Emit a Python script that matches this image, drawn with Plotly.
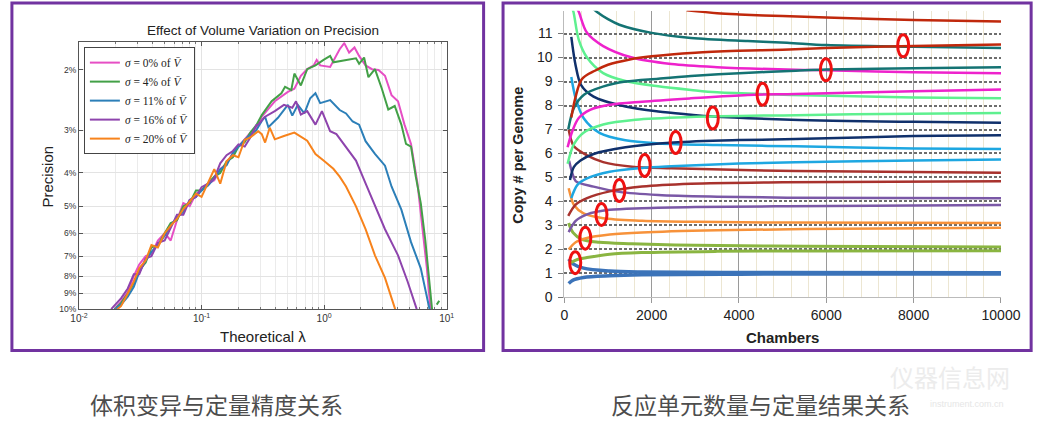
import plotly.graph_objects as go

# ---------------- Left chart: Effect of Volume Variation on Precision ----------------
series_labels = ["<i>σ</i> = 0% of <i>V\u0304</i>", "<i>σ</i> = 4% of <i>V\u0304</i>",
                 "<i>σ</i> = 11% of <i>V\u0304</i>", "<i>σ</i> = 16% of <i>V\u0304</i>",
                 "<i>σ</i> = 20% of <i>V\u0304</i>"]
series_colors = ["#e64fc4", "#43a047", "#2c7fb8", "#8e44ad", "#f7831c"]

rise_lam = [0.0195, 0.022, 0.025, 0.028, 0.031, 0.035, 0.039, 0.044, 0.05, 0.056, 0.063, 0.071,
            0.08, 0.09, 0.1, 0.113, 0.127, 0.142, 0.16, 0.18, 0.2, 0.225, 0.25, 0.28]

lam_s0 = rise_lam + [0.31, 0.396, 0.506, 0.572, 0.646, 0.728, 0.822, 0.87, 0.929, 1.12, 1.34, 1.46,
                     1.6, 1.77, 1.93, 2.18, 2.46, 2.78, 3.14, 3.55, 4.01, 4.53, 5.12, 5.78, 6.3, 6.9, 7.38]
prec_s0 = [10.0, 9.5, 8.9, 8.0, 7.4, 7.0, 6.9, 6.3, 6.0, 6.3, 5.5, 4.9, 5.0, 4.6, 4.5, 4.3, 4.2, 3.9,
           3.75, 3.5, 3.35, 3.2, 3.05, 2.95,
           2.74, 2.47, 2.32, 2.27, 2.08, 1.99, 1.94, 1.87, 1.94, 1.96, 1.74, 1.67,
           1.78, 1.72, 1.82, 1.94, 1.99, 2.0, 2.08, 2.37, 2.47, 2.89, 3.29, 4.29, 5.59, 7.6, 10.0]

lam_s1 = rise_lam + [0.31, 0.373, 0.448, 0.48, 0.54, 0.572, 0.646, 0.728, 0.85, 0.99, 1.12, 1.19,
                     1.51, 1.82, 1.93, 2.12, 2.3, 2.6, 2.96, 3.34, 3.77, 4.27, 4.66, 5.12, 5.6, 6.15,
                     6.7, 7.2, 7.6, None, 8.3, 8.7]
prec_s1 = [10.0, 9.6, 9.0, 8.4, 7.7, 7.3, 6.6, 6.5, 6.0, 5.6, 5.5, 5.0, 4.9, 4.5, 4.5, 4.3, 4.1, 4.0,
           3.7, 3.6, 3.35, 3.25, 3.05, 2.9,
           2.71, 2.47, 2.34, 2.24, 2.29, 2.05, 2.22, 1.99, 1.94, 1.87, 1.82, 1.9,
           1.87, 1.85, 1.92, 1.84, 2.1, 1.99, 2.27, 2.61, 2.55, 2.89, 3.29, 3.35, 4.1, 4.9,
           6.3, 8.1, 10.0, None, 9.7, 9.45]

lam_s2 = rise_lam + [0.31, 0.33, 0.351, 0.42, 0.506, 0.55, 0.61, 0.69, 0.77, 0.85, 0.929, 1.12, 1.34,
                     1.51, 1.71, 1.93, 2.18, 2.6, 3.14, 3.55, 4.27, 5.12, 6.15, 7.25]
prec_s2 = [10.0, 9.7, 9.2, 8.6, 7.8, 7.2, 6.8, 6.5, 6.1, 5.7, 5.4, 5.2, 4.8, 4.7, 4.5, 4.35, 4.15, 3.9,
           3.8, 3.5, 3.35, 3.2, 3.1, 3.0,
           2.82, 2.74, 2.94, 2.76, 2.53, 2.72, 2.53, 2.68, 2.42, 2.34, 2.5, 2.45, 2.62,
           2.68, 2.83, 2.89, 3.23, 3.52, 3.81, 4.38, 5.12, 6.37, 7.6, 10.0]

lam_s3 = [0.0183] + rise_lam[1:] + [0.29, 0.33, 0.396, 0.47, 0.55, 0.59, 0.646, 0.728, 0.85, 0.96,
                                    1.12, 1.26, 1.51, 1.82, 2.18, 2.6, 3.14, 4.01, 4.8, 5.7]
prec_s3 = [10.0, 9.3, 8.7, 7.9, 7.9, 7.1, 7.0, 6.4, 6.3, 5.8, 5.3, 5.3, 4.8, 4.7, 4.4, 4.3, 4.15, 3.75,
           3.55, 3.45, 3.3, 3.35, 3.15, 2.9,
           2.89, 2.74, 2.64, 2.53, 2.58, 2.47, 2.7, 2.64, 2.89, 2.64,
           3.02, 3.08, 3.35, 3.68, 4.29, 5.01, 5.84, 6.96, 8.3, 10.0]

lam_s4 = [0.0205] + rise_lam[1:] + [0.29, 0.31, 0.33, 0.36, 0.396, 0.47, 0.572, 0.728, 0.85, 0.99,
                                    1.19, 1.34, 1.51, 1.82, 2.18, 2.6, 3.14, 3.8]
prec_s4 = [10.0, 9.8, 9.0, 8.3, 7.6, 7.2, 6.5, 6.6, 6.0, 5.7, 5.45, 5.1, 4.85, 4.6, 4.7, 4.25, 3.9, 4.3,
           3.7, 3.55, 3.6, 3.2, 3.15, 3.05,
           3.02, 3.08, 3.26, 2.95, 3.19, 3.12, 3.05, 3.22, 3.52, 3.68,
           3.89, 4.1, 4.38, 5.01, 5.84, 6.96, 8.1, 10.0]

left_lams = [lam_s0, lam_s1, lam_s2, lam_s3, lam_s4]
left_precs = [prec_s0, prec_s1, prec_s2, prec_s3, prec_s4]

x_tick_vals = [0.01, 0.1, 1, 10]
x_tick_text = ["10<sup>-2</sup>", "10<sup>-1</sup>", "10<sup>0</sup>", "10<sup>1</sup>"]
x_minor_vals = [k * d for d in (0.01, 0.1, 1) for k in range(2, 10)]
y_tick_vals = [2, 3, 4, 5, 6, 7, 8, 9, 10]
y_tick_text = [f"{v}%" for v in y_tick_vals]

# ---------------- Right chart: copy number vs chambers ----------------
n_blue_hi = [100, 200, 440, 1040, 1780, 4000, 10000]
c_blue_hi = [1.6, 1.4, 1.22, 1.1, 1.06, 1.04, 1.03]
n_blue_lo = [100, 200, 440, 1040, 1780, 4000, 10000]
c_blue_lo = [0.58, 0.72, 0.83, 0.9, 0.94, 0.97, 0.98]

n_olive_hi = [100, 200, 400, 800, 1550, 3000, 5500, 10000]
c_olive_hi = [3.1, 2.7, 2.42, 2.3, 2.24, 2.17, 2.13, 2.1]
n_olive_lo = [150, 300, 520, 1040, 1780, 3500, 5500, 10000]
c_olive_lo = [1.45, 1.58, 1.66, 1.8, 1.87, 1.92, 1.94, 1.95]

n_orange_hi = [100, 150, 220, 440, 890, 1780, 3000, 5000, 10000]
c_orange_hi = [4.55, 4.2, 3.85, 3.5, 3.3, 3.2, 3.15, 3.12, 3.1]
n_orange_lo = [100, 260, 520, 1040, 1780, 3500, 5500, 10000]
c_orange_lo = [2.0, 2.3, 2.48, 2.62, 2.71, 2.8, 2.85, 2.9]

n_purple_hi = [110, 180, 260, 670, 1260, 2150, 3500, 5100, 10000]
c_purple_hi = [5.7, 5.2, 4.85, 4.62, 4.4, 4.27, 4.2, 4.16, 4.13]
n_purple_lo = [100, 260, 520, 1040, 1780, 3000, 5100, 10000]
c_purple_lo = [2.72, 3.19, 3.46, 3.65, 3.72, 3.77, 3.8, 3.85]

n_brown_hi = [100, 150, 220, 520, 890, 1550, 2450, 5300, 10000]
c_brown_hi = [7.0, 6.6, 6.3, 5.92, 5.64, 5.45, 5.38, 5.27, 5.2]
n_brown_lo = [90, 260, 520, 1040, 1780, 2900, 5000, 10000]
c_brown_lo = [3.4, 3.87, 4.14, 4.42, 4.62, 4.74, 4.8, 4.84]

n_sky_hi = [160, 260, 440, 815, 1400, 2150, 3500, 5300, 8000, 10000]
c_sky_hi = [9.19, 8.3, 7.48, 6.85, 6.55, 6.42, 6.35, 6.3, 6.21, 6.19]
n_sky_lo = [160, 300, 520, 1040, 1780, 2450, 4000, 5300, 8000, 10000]
c_sky_lo = [4.14, 4.69, 4.96, 5.24, 5.4, 5.47, 5.58, 5.64, 5.71, 5.75]

n_navy_hi = [160, 260, 385, 670, 1400, 2150, 2900, 3350, 5200, 8000, 10000]
c_navy_hi = [10.86, 9.66, 8.85, 8.37, 7.96, 7.75, 7.62, 7.55, 7.41, 7.32, 7.28]
n_navy_lo = [130, 220, 370, 670, 1400, 2500, 4000, 5300, 8000, 10000]
c_navy_lo = [4.9, 5.44, 5.71, 5.98, 6.26, 6.46, 6.56, 6.6, 6.73, 6.76]

n_mint_hi = [180, 210, 330, 520, 890, 1400, 2150, 2900, 3500, 5200, 8000, 10000]
c_mint_hi = [12.05, 11.9, 10.75, 10.0, 9.35, 9.02, 8.8, 8.65, 8.55, 8.44, 8.34, 8.3]
n_mint_lo = [75, 220, 440, 890, 1630, 2900, 5300, 8000, 10000]
c_mint_lo = [5.57, 6.39, 6.87, 7.21, 7.41, 7.52, 7.6, 7.66, 7.69]

n_mag_hi = [290, 333, 520, 890, 1550, 2450, 3500, 5300, 6000, 8000, 10000]
c_mag_hi = [12.05, 11.9, 11.03, 10.48, 10.0, 9.73, 9.6, 9.49, 9.47, 9.39, 9.35]
n_mag_lo = [75, 185, 330, 590, 1040, 1780, 2900, 4200, 5300, 8000, 10000]
c_mag_lo = [6.26, 6.94, 7.48, 7.82, 8.03, 8.16, 8.3, 8.44, 8.48, 8.6, 8.67]

n_teal_hi = [650, 741, 1000, 1259, 2000, 2900, 4200, 5100, 6000, 8000, 10000]
c_teal_hi = [12.05, 11.91, 11.6, 11.37, 11.03, 10.82, 10.69, 10.62, 10.52, 10.45, 10.4]
n_teal_lo = [90, 220, 450, 900, 1400, 2150, 2900, 4000, 5300, 6000, 8000, 10000]
c_teal_lo = [7.0, 7.9, 8.45, 8.8, 9.0, 9.12, 9.23, 9.35, 9.45, 9.5, 9.55, 9.6]

n_red_hi = [2800, 3500, 4000, 5000, 6000, 8000, 10000]
c_red_hi = [11.97, 11.85, 11.8, 11.73, 11.67, 11.57, 11.5]
n_red_lo = [160, 250, 400, 700, 1000, 1500, 2000, 3000, 4000, 5000, 6000, 8000, 10000]
c_red_lo = [7.5, 8.3, 9.1, 9.45, 9.7, 9.92, 10.05, 10.2, 10.28, 10.33, 10.4, 10.48, 10.55]

ellipse_n = [250, 480, 850, 1260, 1840, 2550, 3400, 4540, 5990, 7760]
ellipse_c = [1.45, 2.47, 3.46, 4.46, 5.5, 6.46, 7.48, 8.47, 9.49, 10.49]

right_curves = [
    (n_blue_hi, c_blue_hi, "#3b73b9", 3.5), (n_blue_lo, c_blue_lo, "#3b73b9", 3.5),
    (n_olive_hi, c_olive_hi, "#8ab541", 3), (n_olive_lo, c_olive_lo, "#8ab541", 3),
    (n_orange_hi, c_orange_hi, "#f7923a", 2.5), (n_orange_lo, c_orange_lo, "#f7923a", 2.5),
    (n_purple_hi, c_purple_hi, "#7a58a6", 2.5), (n_purple_lo, c_purple_lo, "#7a58a6", 2.5),
    (n_brown_hi, c_brown_hi, "#a8322d", 2.5), (n_brown_lo, c_brown_lo, "#a8322d", 2.5),
    (n_sky_hi, c_sky_hi, "#1ea7e1", 2.5), (n_sky_lo, c_sky_lo, "#1ea7e1", 2.5),
    (n_navy_hi, c_navy_hi, "#10306b", 2.5), (n_navy_lo, c_navy_lo, "#10306b", 2.5),
    (n_mint_hi, c_mint_hi, "#5ef08f", 2.5), (n_mint_lo, c_mint_lo, "#5ef08f", 2.5),
    (n_mag_hi, c_mag_hi, "#ee22cc", 2.5), (n_mag_lo, c_mag_lo, "#ee22cc", 2.5),
    (n_teal_hi, c_teal_hi, "#147373", 2.5), (n_teal_lo, c_teal_lo, "#147373", 2.5),
    (n_red_hi, c_red_hi, "#c0280c", 2.5), (n_red_lo, c_red_lo, "#c0280c", 2.5),
]

fig = go.Figure()

for lam, prec, name, col in zip(left_lams, left_precs, series_labels, series_colors):
    fig.add_trace(go.Scatter(x=lam, y=prec, mode="lines", name=name, xaxis="x", yaxis="y",
                             line=dict(color=col, width=2), connectgaps=False))

for n, c, col, w in right_curves:
    fig.add_trace(go.Scatter(x=n, y=c, mode="lines", xaxis="x2", yaxis="y2", showlegend=False,
                             line=dict(color=col, width=w, shape="spline", smoothing=0.9)))

shapes = []
for cx, cy in zip(ellipse_n, ellipse_c):
    shapes.append(dict(type="circle", xref="x2", yref="y2", xsizemode="pixel", ysizemode="pixel",
                       xanchor=cx, yanchor=cy, x0=-5.5, x1=5.5, y0=-11, y1=11,
                       line=dict(color="#ee1111", width=3)))
# purple panel borders
shapes.append(dict(type="rect", xref="paper", yref="paper", x0=3/1056, x1=488/1056,
                   y0=1-357/433, y1=1-3/433, line=dict(color="#7133a0", width=3), layer="above"))
shapes.append(dict(type="rect", xref="paper", yref="paper", x0=508/1056, x1=1051/1056,
                   y0=1-357/433, y1=1-3/433, line=dict(color="#7133a0", width=3), layer="above"))


def label(text, px, py, size, color="#222", family="Liberation Sans, Arial", angle=0):
    return dict(text=text, x=px/1056, y=1-py/433, xref="paper", yref="paper", showarrow=False,
                xanchor="center", yanchor="middle", textangle=angle,
                font=dict(family=family, size=size, color=color))


annotations = [
    label("Effect of Volume Variation on Precision", 261, 31, 13.5),
    label("Theoretical λ", 261, 343, 15),
    label("Precision", 40, 180, 15, angle=-90),
    label("<b>Copy # per Genome</b>", 523, 158, 14.5, angle=-90),
    label("<b>Chambers</b>", 795, 344, 15),
    label("体积变异与定量精度关系", 213, 412, 23, color="#4d4d4d", family="Noto Sans CJK SC"),
    label("反应单元数量与定量结果关系", 773, 412, 23, color="#4d4d4d", family="Noto Sans CJK SC"),
    label("仪器信息网", 968, 384, 24, color="#ececec", family="Noto Sans CJK SC"),
    label("instrument.com.cn", 985, 412, 9, color="#e6e6e6"),
]

fig.update_layout(
    width=1056, height=433, margin=dict(l=0, r=0, t=0, b=0),
    paper_bgcolor="white", plot_bgcolor="white",
    font=dict(family="Liberation Sans, Arial", color="#333"),
    xaxis=dict(domain=[72/1056, 450/1056], anchor="y", type="log", range=[-2, 1],
               tickmode="array", tickvals=x_tick_vals, ticktext=x_tick_text,
               tickfont=dict(size=10, color="#333"), ticks="inside", ticklen=4, tickcolor="#555",
               showline=True, linecolor="#555", linewidth=1, mirror="ticks",
               showgrid=True, gridcolor="#e3e3e3", gridwidth=1, zeroline=False,
               minor=dict(tickmode="array", tickvals=x_minor_vals, showgrid=True, gridcolor="#ebebeb",
                          ticks="inside", ticklen=2, tickcolor="#777")),
    yaxis=dict(domain=[1-315/433, 1-43/433], anchor="x", type="log", range=[1, 0.2201],
               tickmode="array", tickvals=y_tick_vals, ticktext=y_tick_text,
               tickfont=dict(size=8.5, color="#333"), ticks="inside", ticklen=4, tickcolor="#555",
               showline=True, linecolor="#555", linewidth=1, mirror="ticks",
               showgrid=True, gridcolor="#e3e3e3", zeroline=False),
    xaxis2=dict(domain=[571/1056, 1020/1056], anchor="y2", range=[0, 10000], dtick=2000, tick0=0,
                tickformat="d",
                tickfont=dict(size=14, color="#222"), ticks="outside", ticklen=5, tickcolor="#999",
                showline=True, linecolor="#bbb", linewidth=1, showgrid=True, gridcolor="#9a9a9a",
                gridwidth=1, zeroline=False,
                minor=dict(dtick=400, tick0=0, showgrid=True, gridcolor="#ece6d2", gridwidth=1)),
    yaxis2=dict(domain=[1-303/433, 1-11/433], anchor="x2", range=[0, 11.95], tickmode="array",
                tickvals=list(range(0, 12)), tickfont=dict(size=14, color="#222"),
                ticks="outside", ticklen=5, tickcolor="#777", ticklabelstandoff=3,
                showline=True, linecolor="#bbb", linewidth=1, showgrid=True, gridcolor="#6e6e6e",
                gridwidth=2, griddash="3px,2px", zeroline=False),
    legend=dict(x=77/1056, y=1-48/433, xanchor="left", yanchor="top", bgcolor="white",
                bordercolor="#444", borderwidth=1,
                font=dict(family="Liberation Serif, DejaVu Serif", size=11.5, color="#222"),
                tracegroupgap=0),
    shapes=shapes, annotations=annotations,
)

fig.write_html("out.html")
